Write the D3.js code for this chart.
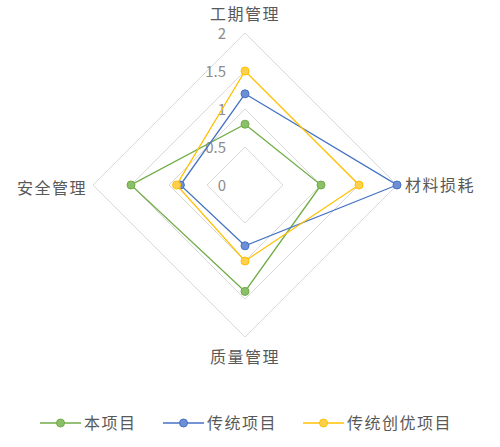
<!DOCTYPE html>
<html><head><meta charset="utf-8">
<script src="https://cdn.jsdelivr.net/npm/d3@7"></script>
<style>body{margin:0;background:#fff;}svg{display:block;font-family:"Noto Sans CJK SC","Microsoft YaHei",sans-serif;}</style>
</head><body><svg id="c" width="500" height="447"></svg>
<script>
const categories = ["工期管理", "材料损耗", "质量管理", "安全管理"];
const seriesNames = ["本项目", "传统项目", "传统创优项目"];
const benXiangmu = [0.8, 1, 1.4, 1.5];
const chuantong = [1.2, 2, 0.8, 0.85];
const chuangyou = [1.5, 1.5, 1, 0.9];
const tickValues = [0, 0.5, 1, 1.5, 2];
const colors = ["#70AD47", "#4472C4", "#FFC000"];
const fills = ["#8CBF6A", "#6E8FD6", "#FFD04D"];

const svg = d3.select("#c");
const cx = 245, cy = 185;
const r = d3.scaleLinear().domain([0, 2]).range([0, 152]);
const ang = d3.scalePoint().domain(categories).range([0, 2 * Math.PI * 3 / 4]);
const pt = (c, v) => { const a = ang(c); return [cx + r(v) * Math.sin(a), cy - r(v) * Math.cos(a)]; };

// grid
const g = svg.append("g");
tickValues.forEach(t => {
  g.append("path")
    .attr("d", d3.line()(categories.map(c => pt(c, t))) + "Z")
    .attr("fill", "none").attr("stroke", "#d9d9d9").attr("stroke-width", 1);
});
// tick labels
tickValues.forEach(t => {
  g.append("text").attr("x", cx - 19).attr("y", cy - r(t) + 1).attr("dy", "0.35em")
    .attr("text-anchor", "end").attr("font-size", 15).attr("fill", "#8c8c8c").text(t);
});
// category labels
const lab = [
  {dx: 0, dy: -19, anchor: "middle"},
  {dx: 8, dy: 0, anchor: "start"},
  {dx: 0, dy: 20, anchor: "middle"},
  {dx: -6, dy: 3, anchor: "end"}
];
categories.forEach((c, i) => {
  const [x, y] = pt(c, 2);
  g.append("text").attr("x", x + lab[i].dx).attr("y", y + lab[i].dy).attr("dy", "0.35em")
    .attr("text-anchor", lab[i].anchor).attr("font-size", 16).attr("letter-spacing", "1.5px")
    .attr("fill", "#595959").text(c);
});

const data = [benXiangmu, chuantong, chuangyou];
data.forEach((vals, si) => {
  const pts = categories.map((c, i) => pt(c, vals[i]));
  svg.append("path").attr("d", d3.line()(pts) + "Z").attr("fill", "none")
    .attr("stroke", colors[si]).attr("stroke-width", 1.3);
  svg.selectAll(null).data(pts).enter().append("circle")
    .attr("cx", d => d[0]).attr("cy", d => d[1]).attr("r", 4)
    .attr("fill", fills[si]).attr("stroke", colors[si]).attr("stroke-width", 1);
});

// legend
const legX = [40, 163, 303];
seriesNames.forEach((n, i) => {
  const lg = svg.append("g").attr("transform", `translate(${legX[i]},423)`);
  lg.append("line").attr("x1", 0).attr("x2", 41).attr("stroke", colors[i]).attr("stroke-width", 1.3);
  lg.append("circle").attr("cx", 20.5).attr("r", 4).attr("fill", fills[i]).attr("stroke", colors[i]);
  lg.append("text").attr("x", 44).attr("dy", "0.35em").attr("font-size", 16).attr("letter-spacing", "1.5px")
    .attr("fill", "#595959").text(n);
});
</script></body></html>
